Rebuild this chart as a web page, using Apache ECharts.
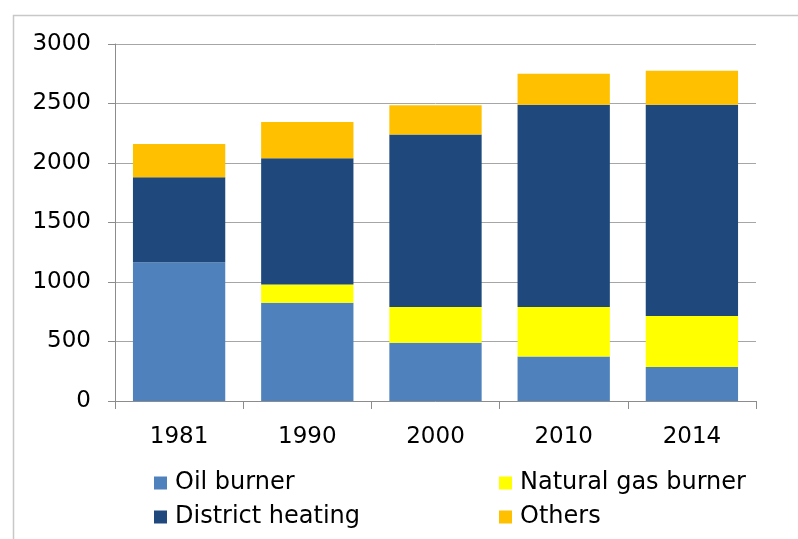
<!DOCTYPE html>
<html>
<head>
<meta charset="utf-8">
<script src="https://cdn.jsdelivr.net/npm/echarts@6/dist/echarts.min.js"></script>
<style>
html,body{margin:0;padding:0;background:#fff;}
#chart{width:798px;height:539px;}
</style>
</head>
<body>
<div id="chart"></div>
<script>
var categories = ['1981', '1990', '2000', '2010', '2014'];
var oilBurner = [1165, 825, 490, 375, 285];
var naturalGasBurner = [0, 155, 300, 415, 430];
var districtHeating = [715, 1060, 1450, 1700, 1775];
var others = [280, 305, 245, 260, 285];
var yTicks = [0, 500, 1000, 1500, 2000, 2500, 3000];

var chart = echarts.init(document.getElementById('chart'), null, {renderer: 'canvas'});
var font = 'DejaVu Sans, Verdana, sans-serif';
function bar(name, data, color) {
  return {
    name: name, type: 'bar', stack: 'total', data: data,
    barWidth: '72%',
    itemStyle: {color: color},
    emphasis: {disabled: true}
  };
}
var legendText = {fontFamily: font, fontSize: 24, color: '#000', padding: [0, 0, 0, 3]};
chart.setOption({
  animation: false,
  graphic: [{
    type: 'rect', left: 11, top: 13, silent: true,
    shape: {x: 0, y: 0, width: 900, height: 700},
    style: {fill: 'none', stroke: '#c8c8c8', lineWidth: 1.5}
  }],
  grid: {left: 115, right: 42, top: 44, bottom: 138},
  legend: [{
    orient: 'vertical', left: 154, top: 471, padding: 0,
    itemWidth: 13, itemHeight: 13, itemGap: 10,
    textStyle: legendText,
    icon: 'rect',
    data: ['Oil burner', 'District heating']
  }, {
    orient: 'vertical', left: 499, top: 471, padding: 0,
    itemWidth: 13, itemHeight: 13, itemGap: 10,
    textStyle: legendText,
    icon: 'rect',
    data: ['Natural gas burner', 'Others']
  }],
  xAxis: {
    type: 'category', data: categories,
    axisLine: {lineStyle: {color: '#8c8c8c', width: 1}},
    axisTick: {show: true, length: 8, alignWithLabel: false, lineStyle: {color: '#8c8c8c'}},
    axisLabel: {fontFamily: font, fontSize: 23, color: '#000', margin: 25}
  },
  yAxis: {
    type: 'value', min: 0, max: 3000, interval: 500,
    axisLine: {show: true, lineStyle: {color: '#8c8c8c', width: 1}},
    axisTick: {show: true, length: 7, lineStyle: {color: '#8c8c8c'}},
    splitLine: {lineStyle: {color: '#a6a6a6', width: 1}},
    axisLabel: {fontFamily: font, fontSize: 23, color: '#000', margin: 24,
      formatter: function (v) { return yTicks.indexOf(v) >= 0 ? String(v) : ''; }}
  },
  series: [
    bar('Oil burner', oilBurner, '#4f81bd'),
    bar('Natural gas burner', naturalGasBurner, '#ffff00'),
    bar('District heating', districtHeating, '#1f497d'),
    bar('Others', others, '#ffc000')
  ]
});
</script>
</body>
</html>
